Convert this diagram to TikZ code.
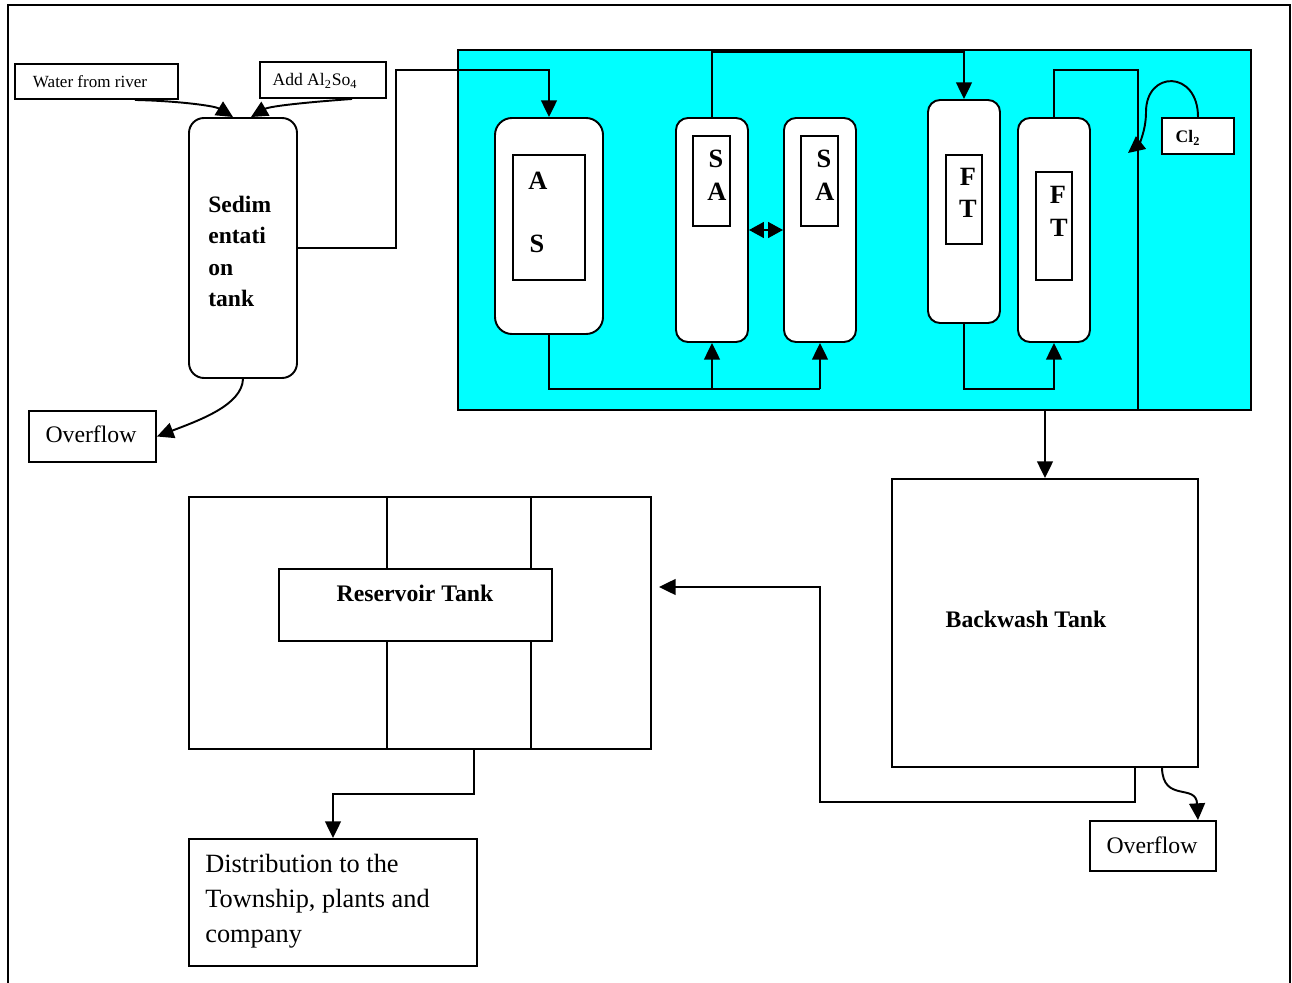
\documentclass[tikz,border=0pt]{standalone}
\usepackage{fontspec}
\setmainfont{Liberation Serif}
\usetikzlibrary{arrows.meta,fit}
\definecolor{aqua}{HTML}{00FFFF}
\tikzset{
  x=0.02cm,y=-0.02cm,
  lw/.style={line width=1.1pt},
  box/.style={draw,lw,inner sep=0pt,fill=white},
  tankbox/.style={box,rounded corners=0.3cm},
  colbox/.style={box,rounded corners=0.24cm},
  arr/.style={lw,-{Triangle[length=9.5pt,width=9pt]}},
  darr/.style={lw,{Triangle[length=8.5pt,width=9pt]}-{Triangle[length=8.5pt,width=9pt]}},
  smalltxt/.style={font=\fontsize{9.7}{12}\selectfont,inner sep=0pt},
  midtxt/.style={font=\fontsize{13.5}{16}\selectfont,inner sep=0pt},
  boldtxt/.style={font=\fontsize{13.5}{16}\selectfont\bfseries,inner sep=0pt},
  lettertxt/.style={font=\fontsize{15}{18}\selectfont\bfseries,inner sep=0pt},
}
\begin{document}
\begin{tikzpicture}
\useasboundingbox (0,0) rectangle (1292,983);
% outer frame
\draw[lw] (8,983) -- (8,5) -- (1290,5) -- (1290,983);

% input boxes
\node[box,fit={(15,64)(178,99)}] (wr) {};
\node[smalltxt] (wrt) at (90,82) {Water from river};
\node[box,fit={(260,62)(386,98)}] (al) {};
\node[font=\fontsize{10}{12}\selectfont,inner sep=0pt] (alt) at (315,81) {Add Al\textsubscript{2}So\textsubscript{4}};

% sedimentation tank
\node[tankbox,fit={(189,118)(297,378)}] (sed) {};
\node[anchor=base west,align=left,inner sep=0pt,font=\fontsize{13.4}{18}\selectfont\bfseries] (sedt) at (208,307) {Sedim\\entati\\on\\tank};
\node[box,fit={(29,411)(156,462)}] (ov1) {};
\node[midtxt] (ov1t) at (91,434) {Overflow};

\draw[arr] ([xshift=0.77cm]wr.south) .. controls (180,101) and (215,106) .. ([xshift=-0.2cm]sed.north);
\draw[arr] ([xshift=0.58cm]al.south) .. controls (310,102) and (270,106) .. ([xshift=0.16cm]sed.north);
\draw[arr] (sed.south) .. controls (242,405) and (200,420) .. (ov1.east);

% cyan treatment area
\node[draw,lw,fill=aqua,inner sep=0pt,fit={(458,50)(1251,410)}] (cy) {};

% AS column
\node[colbox,rounded corners=0.34cm,fit={(495,118)(603,334)}] (as) {};
\node[draw,lw,inner sep=0pt,fit={(513,155)(585,280)}] (asin) {};
\node[lettertxt] (asa) at (538,181) {A};
\node[lettertxt] (ass) at (537,244) {S};

% SA columns
\node[colbox,fit={(676,118)(748,342)}] (sa1) {};
\node[draw,lw,inner sep=0pt,fit={(693,136)(730,226)}] (sa1in) {};
\node[lettertxt] (sa1s) at (716,159) {S};
\node[lettertxt] (sa1a) at (717,192) {A};
\node[colbox,fit={(784,118)(856,342)}] (sa2) {};
\node[draw,lw,inner sep=0pt,fit={(801,136)(838,226)}] (sa2in) {};
\node[lettertxt] (sa2s) at (824,159) {S};
\node[lettertxt] (sa2a) at (825,192) {A};

% FT columns
\node[colbox,fit={(928,100)(1000,323)}] (ft1) {};
\node[draw,lw,inner sep=0pt,fit={(946,155)(982,244)}] (ft1in) {};
\node[lettertxt] (ft1f) at (968,177) {F};
\node[lettertxt] (ft1t) at (968,209) {T};
\node[colbox,fit={(1018,118)(1090,342)}] (ft2) {};
\node[draw,lw,inner sep=0pt,fit={(1036,172)(1072,280)}] (ft2in) {};
\node[lettertxt] (ft2f) at (1058,195) {F};
\node[lettertxt] (ft2t) at (1059,228) {T};

% Cl2
\node[box,fit={(1162,118)(1234,154)}] (cl) {};
\node[font=\fontsize{10}{12}\selectfont\bfseries,inner sep=0pt] (clt) at (1188,138) {Cl\textsubscript{2}};

% connectors in treatment area
\draw[arr] (sed.east) -- (396,248) |- (as.north |- 0,70) -- (as.north);
\draw[lw] (as.south) |- (sa2.south |- 0,389);
\draw[arr] (sa1.south |- 0,389) -- (sa1.south);
\draw[arr] (sa2.south |- 0,389) -- (sa2.south);
\draw[darr] (sa1.east) -- (sa2.west);
\draw[arr] (sa1.north) |- (ft1.north |- 0,52) -- (ft1.north);
\draw[arr] (ft1.south) |- (ft2.south |- 0,389) -- (ft2.south);

% backwash tank
\node[box,fit={(892,479)(1198,767)}] (bw) {};
\node[boldtxt] (bwt) at (1026,619) {Backwash Tank};
\draw[arr] (ft2.north) |- (1138,70) -- (1138,410) -| (bw.north);
\draw[arr] (cl.north) .. controls (1198,70) and (1146,70) .. (1146,112) .. controls (1146,132) and (1138,145) .. (1128,153);

\node[box,fit={(1090,821)(1216,871)}] (ov2) {};
\node[midtxt] (ov2t) at (1152,845) {Overflow};
\draw[arr] (bw.south -| 1162,0) .. controls (1163,803) and (1196,783) .. (ov2.north -| 1198,0);

% reservoir
\node[box,fit={(189,497)(651,749)}] (res) {};
\draw[lw] (387,497) -- (387,749);
\draw[lw] (531,497) -- (531,749);
\node[box,fit={(279,569)(552,641)}] (resin) {};
\node[boldtxt] (rest) at (415,593) {Reservoir Tank};
\draw[arr] (bw.south -| 1135,0) -- (1135,802) -| (820,587) -- ([xshift=0.14cm]res.east |- 0,587);

% distribution
\node[box,fit={(189,839)(477,966)}] (dist) {};
\node[anchor=base west,align=left,inner sep=0pt,font=\fontsize{15}{19.8}\selectfont] (distt) at (205,942) {Distribution to the\\Township, plants and\\company};
\draw[arr] (res.south -| 474,0) -- (474,794) -| (dist.north);
\end{tikzpicture}
\end{document}
